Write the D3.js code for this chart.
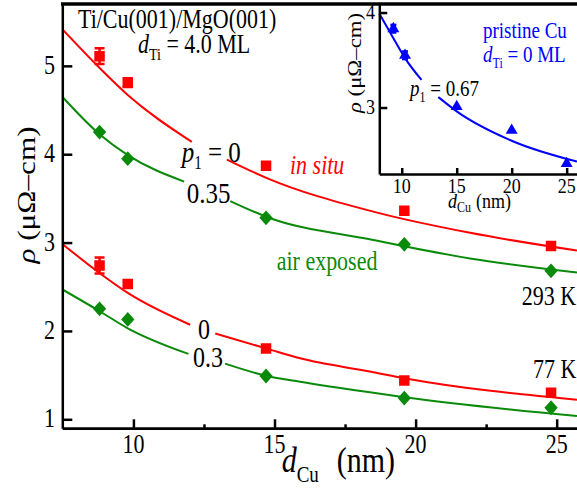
<!DOCTYPE html>
<html><head><meta charset="utf-8">
<script src="https://cdn.jsdelivr.net/npm/d3@7"></script>
<style>
body{margin:0;background:#fff}
svg{display:block}
text{font-family:"Liberation Serif","Times New Roman",serif}
</style>
</head><body>
<svg id="c" width="577" height="494"></svg>
<script>
// ---------- data ----------
const dCu = [8.8, 9.8, 14.7, 19.6, 24.8];
const rho293InSitu = [5.11, 4.81, 3.87, 3.36, 2.96];
const err293InSitu = [0.09, 0.05, 0, 0, 0];
const rho293Air = [4.25, 3.95, 3.28, 2.98, 2.68];
const rho77InSitu = [2.74, 2.53, 1.80, 1.44, 1.30];
const err77InSitu = [0.09, 0.04, 0, 0, 0];
const rho77Air = [2.25, 2.13, 1.49, 1.24, 1.13];

// fit curves (d, rho), null marks the gap left for a label
const fit293InSitu = [[7.48,5.415],[8.82,4.97],[9.8,4.67],[12.07,4.14],[12.7,null],[13.31,3.94],[14.73,3.73],[18.5,3.35],[21.93,3.11],[25.72,2.91]];
const fit293Air = [[7.48,4.65],[8.82,4.22],[9.8,3.99],[11.8,3.69],[12.6,null],[13.43,3.47],[14.73,3.29],[18.5,3.03],[21.93,2.82],[25.72,2.66]];
const fit77InSitu = [[7.48,2.985],[8.82,2.65],[9.8,2.43],[12.01,2.07],[12.45,null],[12.9,1.97],[14.73,1.80],[15.91,1.69],[18.38,1.54],[19.6,1.465],[25.72,1.22]];
const fit77Air = [[7.48,2.47],[8.82,2.22],[9.8,2.03],[11.95,1.74],[12.6,null],[13.25,1.63],[14.73,1.49],[15.91,1.425],[18.38,1.305],[19.6,1.25],[25.72,1.036]];

// inset: pristine Cu
const dCuInset = [9.24, 10.3, 15.0, 20.0, 25.0];
const rhoPristine = [3.83, 3.55, 3.01, 2.76, 2.41];
const errPristine = [0.04, 0.04, 0, 0, 0];
const fitPristine = [[7.96,3.99],[9.24,3.73],[10.3,3.52],[11.8,3.29],[12.55,null],[13.33,3.11],[15.0,2.96],[20.0,2.65],[25.94,2.43]];

const xTicks = [10, 15, 20, 25];
const xMinorTicks = [12.5, 17.5, 22.5];
const yTicks = [1, 2, 3, 4, 5];
const xTicksInset = [10, 15, 20, 25];
const yTicksInset = [3, 4];

// ---------- drawing ----------
const RED = "#ff0000", GREEN = "#0a8a0a", BLUE = "#0000ff";
const SY = 1.2; // vertical stretch of the original figure's text
const svg = d3.select("#c");

const x = d3.scaleLinear().domain([7.48, 25.72]).range([62.3, 577]);
const y = d3.scaleLinear().domain([0.898, 5.70]).range([428.3, 4]);

function stext(g, px, py, size, opts = {}) {
  const t = g.append("text")
    .attr("transform", `translate(${px},${py}) scale(1,${SY})` + (opts.rotate ? ` rotate(${opts.rotate})` : ""))
    .attr("font-size", size)
    .attr("fill", opts.fill || "#000")
    .attr("text-anchor", opts.anchor || "start");
  if (opts.italic) t.attr("font-style", "italic");
  return t;
}
function ts(t, s, o = {}) {
  const sp = t.append("tspan").text(s);
  if (o.italic) sp.attr("font-style", "italic");
  if (o.size) sp.attr("font-size", o.size);
  if (o.dy) sp.attr("dy", o.dy);
  if (o.x !== undefined) sp.attr("x", o.x);
  return sp;
}

svg.append("clipPath").attr("id", "mainclip").append("rect")
  .attr("x", 62.3).attr("y", 4).attr("width", 577 - 62.3).attr("height", 428.3 - 4);

const main = svg.append("g").attr("clip-path", "url(#mainclip)");

const lineMain = d3.line().defined(d => d[1] != null)
  .x(d => x(d[0])).y(d => y(d[1])).curve(d3.curveMonotoneX);

[[fit293InSitu, RED], [fit293Air, GREEN], [fit77InSitu, RED], [fit77Air, GREEN]].forEach(([data, c]) => {
  main.append("path").attr("d", lineMain(data)).attr("fill", "none")
    .attr("stroke", c).attr("stroke-width", 2);
});

function errorBars(g, xs, ys, es, xs_, ys_, c, cap) {
  xs.forEach((d, i) => {
    if (!es[i]) return;
    const cx = xs_(d), y1 = ys_(ys[i] + es[i]), y2 = ys_(ys[i] - es[i]);
    g.append("line").attr("x1", cx).attr("x2", cx).attr("y1", y1).attr("y2", y2)
      .attr("stroke", c).attr("stroke-width", 2.5);
    [y1, y2].forEach(yy => g.append("line").attr("x1", cx - cap).attr("x2", cx + cap)
      .attr("y1", yy).attr("y2", yy).attr("stroke", c).attr("stroke-width", 2.5));
  });
}
function squares(g, xs, ys, c) {
  g.selectAll(null).data(xs).enter().append("path")
    .attr("d", d3.symbol(d3.symbolSquare, 110)())
    .attr("transform", (d, i) => `translate(${x(d)},${y(ys[i])})`)
    .attr("fill", c);
}
function diamonds(g, xs, ys, c) {
  g.selectAll(null).data(xs).enter().append("path")
    .attr("d", d3.symbol(d3.symbolSquare, 88)())
    .attr("transform", (d, i) => `translate(${x(d)},${y(ys[i])}) scale(1,1.12) rotate(45)`)
    .attr("fill", c);
}

errorBars(main, dCu, rho293InSitu, err293InSitu, x, y, RED, 5);
errorBars(main, dCu, rho77InSitu, err77InSitu, x, y, RED, 5);
squares(main, dCu, rho293InSitu, RED);
squares(main, dCu, rho77InSitu, RED);
diamonds(main, dCu, rho293Air, GREEN);
diamonds(main, dCu, rho77Air, GREEN);

// axes
function styleAxis(g, w) {
  g.selectAll("path").attr("stroke", "#000").attr("stroke-width", w);
  g.selectAll("line").attr("stroke", "#000").attr("stroke-width", w);
  g.selectAll("text").remove();
}
const gxMinor = svg.append("g").attr("transform", `translate(0,${y.range()[0]})`)
  .call(d3.axisBottom(x).tickValues(xMinorTicks).tickSize(-4).tickSizeOuter(0).tickFormat(""));
styleAxis(gxMinor, 2.5);
const gx = svg.append("g").attr("transform", `translate(0,${y.range()[0]})`)
  .call(d3.axisBottom(x).tickValues(xTicks).tickSize(-9).tickSizeOuter(0).tickFormat(""));
styleAxis(gx, 2.5);
const gy = svg.append("g").attr("transform", `translate(${x.range()[0]},0)`)
  .call(d3.axisLeft(y).tickValues(yTicks).tickSize(-10).tickSizeOuter(0).tickFormat(""));
styleAxis(gy, 2.5);

xTicks.forEach(v => stext(svg, x(v), 453, 22, {anchor: "middle"}).text(v));
yTicks.forEach(v => stext(svg, 55, y(v) + 8, 22, {anchor: "end"}).text(v));

// axis titles
{
  const t = stext(svg, 281.7, 472, 30);
  ts(t, "d", {italic: true});
  ts(t, "Cu", {size: 19, dy: 8});
  ts(t, "(nm)", {dy: -8, x: 55});
}
{
  const t = stext(svg, 35, 195, 26, {anchor: "middle", rotate: -90});
  ts(t, "ρ", {italic: true});
  ts(t, " (μΩ–cm)");
}

// annotations
stext(svg, 78, 27.5, 22).text("Ti/Cu(001)/MgO(001)");
{
  const t = stext(svg, 138, 53, 22);
  ts(t, "d", {italic: true});
  ts(t, "Ti", {size: 14, dy: 6});
  ts(t, " = 4.0 ML", {dy: -6});
}
{
  const t = stext(svg, 181.7, 162, 25);
  ts(t, "p", {italic: true});
  ts(t, "1", {size: 15, dy: 6});
  ts(t, " = 0", {dy: -6});
}
stext(svg, 290, 174, 22, {fill: RED, italic: true}).text("in situ");
stext(svg, 186.7, 203, 25).text("0.35");
stext(svg, 276.7, 270, 22, {fill: GREEN}).text("air exposed");
stext(svg, 521.7, 305, 22).text("293 K");
stext(svg, 533, 378, 22).text("77 K");
stext(svg, 198, 339, 24).text("0");
stext(svg, 193, 367, 24).text("0.3");

// ---------- inset ----------
const xi = d3.scaleLinear().domain([7.96, 25.94]).range([379.3, 577]);
const yi = d3.scaleLinear().domain([2.30, 4.09]).range([174, 4]);

svg.append("rect").attr("x", 379.3).attr("y", 4).attr("width", 577 - 379.3).attr("height", 170).attr("fill", "#fff");

const ins = svg.append("g");
const lineInset = d3.line().defined(d => d[1] != null)
  .x(d => xi(d[0])).y(d => yi(d[1])).curve(d3.curveMonotoneX);
ins.append("path").attr("d", lineInset(fitPristine)).attr("fill", "none")
  .attr("stroke", BLUE).attr("stroke-width", 2);
errorBars(ins, dCuInset, rhoPristine, errPristine, xi, yi, BLUE, 3);
ins.selectAll(null).data(dCuInset).enter().append("path")
  .attr("d", d3.symbol(d3.symbolTriangle, 62)())
  .attr("transform", (d, i) => `translate(${xi(d)},${yi(rhoPristine[i])})`)
  .attr("fill", BLUE);

const gxi = svg.append("g").attr("transform", `translate(0,${yi.range()[0]})`)
  .call(d3.axisBottom(xi).tickValues(xTicksInset).tickSize(-6).tickSizeOuter(0).tickFormat(""));
styleAxis(gxi, 2.5);
const gyi = svg.append("g").attr("transform", `translate(${xi.range()[0]},0)`)
  .call(d3.axisLeft(yi).tickValues(yTicksInset).tickSize(-8).tickSizeOuter(0).tickFormat(""));
styleAxis(gyi, 2.5);

xTicksInset.forEach(v => stext(svg, xi(v), 193, 18, {anchor: "middle"}).text(v));
yTicksInset.forEach(v => stext(svg, 375, yi(v) + 6.5, 18, {anchor: "end"}).text(v));
{
  const t = stext(svg, 448, 207.5, 18);
  ts(t, "d", {italic: true});
  ts(t, "Cu", {size: 12, dy: 4});
  ts(t, "(nm)", {dy: -4, x: 28});
}
{
  const t = stext(svg, 361, 63, 19, {anchor: "middle", rotate: -90});
  ts(t, "ρ", {italic: true});
  ts(t, " (μΩ–cm)");
}
stext(svg, 483, 38, 19, {fill: BLUE}).text("pristine Cu");
{
  const t = stext(svg, 483, 62, 19, {fill: BLUE});
  ts(t, "d", {italic: true});
  ts(t, "Ti", {size: 12, dy: 5});
  ts(t, " = 0 ML", {dy: -5});
}
{
  const t = stext(svg, 410, 96, 19);
  ts(t, "p", {italic: true});
  ts(t, "1", {size: 12, dy: 5});
  ts(t, " = 0.67", {dy: -5});
}

// top frame line
svg.append("line").attr("x1", 61).attr("x2", 577).attr("y1", 4).attr("y2", 4)
  .attr("stroke", "#000").attr("stroke-width", 3.5);
</script>
</body></html>
